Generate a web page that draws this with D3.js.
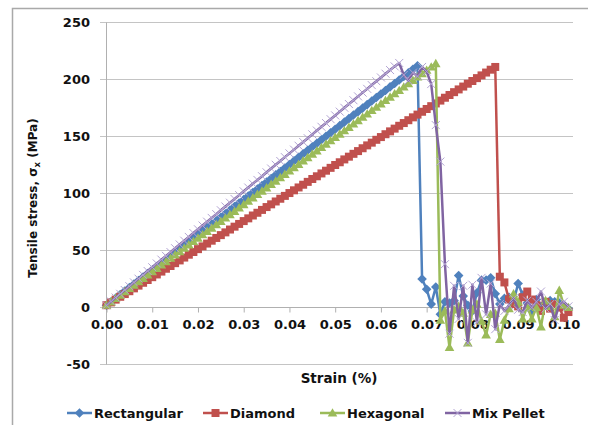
<!DOCTYPE html>
<html>
<head>
<meta charset="utf-8">
<script src="https://cdn.jsdelivr.net/npm/d3@7"></script>
<style>
  html, body { margin: 0; padding: 0; background: #fff; }
  svg { display: block; }
  text { font-family: "DejaVu Sans", sans-serif; font-weight: bold; fill: #111; }
</style>
</head>
<body>
<svg id="chart" width="598" height="425"></svg>
<script>
// Strain samples (%) shared by every series
const strain = [
  0.000, 0.001, 0.002, 0.003, 0.004, 0.005, 0.006, 0.007, 0.008, 0.009,
  0.010, 0.011, 0.012, 0.013, 0.014, 0.015, 0.016, 0.017, 0.018, 0.019,
  0.020, 0.021, 0.022, 0.023, 0.024, 0.025, 0.026, 0.027, 0.028, 0.029,
  0.030, 0.031, 0.032, 0.033, 0.034, 0.035, 0.036, 0.037, 0.038, 0.039,
  0.040, 0.041, 0.042, 0.043, 0.044, 0.045, 0.046, 0.047, 0.048, 0.049,
  0.050, 0.051, 0.052, 0.053, 0.054, 0.055, 0.056, 0.057, 0.058, 0.059,
  0.060, 0.061, 0.062, 0.063, 0.064, 0.065, 0.066, 0.067, 0.068, 0.069,
  0.070, 0.071, 0.072, 0.073, 0.074, 0.075, 0.076, 0.077, 0.078, 0.079,
  0.080, 0.081, 0.082, 0.083, 0.084, 0.085, 0.086, 0.087, 0.088, 0.089,
  0.090, 0.091, 0.092, 0.093, 0.094, 0.095, 0.096, 0.097, 0.098, 0.099,
  0.100, 0.101
];

// Tensile stress (MPa) for each pellet shape
const rectangular = [
  2.0, 5.1, 8.2, 11.3, 14.4, 17.4, 20.5, 23.6, 26.7, 29.8,
  32.9, 36.0, 39.1, 42.1, 45.2, 48.3, 51.4, 54.5, 57.6, 60.7,
  63.8, 66.8, 69.9, 73.0, 76.1, 79.2, 82.3, 85.4, 88.5, 91.6,
  94.6, 97.7, 100.8, 103.9, 107.0, 110.1, 113.2, 116.3, 119.3, 122.4,
  125.5, 128.6, 131.7, 134.8, 137.9, 141.0, 144.0, 147.1, 150.2, 153.3,
  156.4, 159.5, 162.6, 165.7, 168.8, 171.8, 174.9, 178.0, 181.1, 184.2,
  187.3, 190.4, 193.5, 196.5, 199.6, 202.7, 205.8, 208.9, 212.0, 25,
  16, 3, 18, -6, 5, 4, 6, 28, 10, 2,
  -3, 13, 24, 24, 26, 12, 3, 8, 9, 5,
  21, 11, 4, -3, 7, 1, 4, 6, 5, 4,
  2, -1
];

const diamond = [
  2.0, 4.5, 6.9, 9.4, 11.8, 14.3, 16.8, 19.2, 21.7, 24.1,
  26.6, 29.0, 31.5, 34.0, 36.4, 38.9, 41.3, 43.8, 46.3, 48.7,
  51.2, 53.6, 56.1, 58.6, 61.0, 63.5, 65.9, 68.4, 70.9, 73.3,
  75.8, 78.2, 80.7, 83.1, 85.6, 88.1, 90.5, 93.0, 95.4, 97.9,
  100.4, 102.8, 105.3, 107.7, 110.2, 112.7, 115.1, 117.6, 120.0, 122.5,
  125.0, 127.4, 129.9, 132.3, 134.8, 137.2, 139.7, 142.2, 144.6, 147.1,
  149.5, 152.0, 154.5, 156.9, 159.4, 161.8, 164.3, 166.8, 169.2, 171.7,
  174.1, 176.6, 179.0, 181.5, 184.0, 186.4, 188.9, 191.3, 193.8, 196.3,
  198.7, 201.2, 203.6, 206.1, 208.6, 211.0, 27, 22, 7, 3,
  1, 9, 14, 7, 2, -3, 5, -1, 3, 0,
  -9, -4
];

const hexagonal = [
  2.0, 4.9, 7.9, 10.8, 13.8, 16.7, 19.7, 22.6, 25.6, 28.5,
  31.4, 34.4, 37.3, 40.3, 43.2, 46.2, 49.1, 52.0, 55.0, 57.9,
  60.9, 63.8, 66.8, 69.7, 72.7, 75.6, 78.5, 81.5, 84.4, 87.4,
  90.3, 93.3, 96.2, 99.2, 102.1, 105.0, 108.0, 110.9, 113.9, 116.8,
  119.8, 122.7, 125.6, 128.6, 131.5, 134.5, 137.4, 140.4, 143.3, 146.3,
  149.2, 152.1, 155.1, 158.0, 161.0, 163.9, 166.9, 169.8, 172.8, 175.7,
  178.6, 181.6, 184.5, 187.5, 190.4, 193.4, 196.3, 199.2, 202.2, 205.1,
  208.1, 211.0, 214.0, -11, -3, -35, -2, 1, -5, -31,
  -2, 3, -12, -24, -6, -5, -28, -11, -1, 12,
  5, -10, 1, -10, 0, -17, 6, 1, -8, 15,
  2, 0
];

const mixPellet = [
  2.0, 5.3, 8.7, 12.0, 15.3, 18.7, 22.0, 25.3, 28.6, 32.0,
  35.3, 38.6, 42.0, 45.3, 48.6, 52.0, 55.3, 58.6, 61.9, 65.3,
  68.6, 71.9, 75.3, 78.6, 81.9, 85.3, 88.6, 91.9, 95.2, 98.6,
  101.9, 105.2, 108.6, 111.9, 115.2, 118.6, 121.9, 125.2, 128.5, 131.9,
  135.2, 138.5, 141.9, 145.2, 148.5, 151.9, 155.2, 158.5, 161.8, 165.2,
  168.5, 171.8, 175.2, 178.5, 181.8, 185.2, 188.5, 191.8, 195.1, 198.5,
  201.8, 205.1, 208.3, 211.5, 214.5, 204, 199, 206, 203, 211,
  207, 196, 160, 128, 38, -23, 19, -10, 19, -31,
  20, -13, 26, -6, 21, -19, 3, -3, 2, 8,
  -2, -4, 6, 0, 5, 14, -1, 3, -11, 3,
  5, 1
];

const seriesNames = ['Rectangular', 'Diamond', 'Hexagonal', 'Mix Pellet'];
const yTicks = [-50, 0, 50, 100, 150, 200, 250];
const xTicks = [0.00, 0.01, 0.02, 0.03, 0.04, 0.05, 0.06, 0.07, 0.08, 0.09, 0.10];

// Look of each series (Excel 2007 palette)
const styles = [
  { color: '#4f81bd', marker: 'diamond' },
  { color: '#c0504d', marker: 'square' },
  { color: '#9bbb59', marker: 'triangle' },
  { color: '#8064a2', marker: 'cross', markerColor: '#b3a5d3' }
];

const markerPaths = {
  diamond: 'M0,-4.8L4.8,0L0,4.8L-4.8,0Z',
  square: 'M-4,-4H4V4H-4Z',
  triangle: 'M0,-4.8L4.8,3.6L-4.8,3.6Z',
  cross: 'M-4,-4L4,4M4,-4L-4,4'
};

const svg = d3.select('#chart');

// Outer chart frame (top and left edges only)
svg.append('path')
  .attr('d', 'M12.5,425V8.5H588')
  .attr('fill', 'none')
  .attr('stroke', '#a9a9a9')
  .attr('stroke-width', 1.5);

const x = d3.scaleLinear().domain([0, 0.102]).range([106.5, 573]);
const y = d3.scaleLinear().domain([-50, 250]).range([364.5, 22.5]);

// Horizontal gridlines + y axis tick marks
svg.append('g')
  .selectAll('line')
  .data(yTicks)
  .join('line')
  .attr('x1', 100)
  .attr('x2', 573)
  .attr('y1', d => y(d))
  .attr('y2', d => y(d))
  .attr('stroke', '#c4c4c4')
  .attr('stroke-width', 1);

// Y axis line
svg.append('line')
  .attr('x1', x(0)).attr('x2', x(0))
  .attr('y1', y(250)).attr('y2', y(-50))
  .attr('stroke', '#b0b0b0');

// X axis at stress = 0
const xAxis = d3.axisBottom(x)
  .tickValues(xTicks)
  .tickSize(5)
  .tickFormat(d3.format('.2f'));

const gx = svg.append('g')
  .attr('transform', `translate(0,${y(0)})`)
  .call(xAxis);
gx.select('.domain').attr('stroke', '#b0b0b0').attr('d', `M${x(0)},0H573`);
gx.selectAll('.tick line').attr('stroke', '#b0b0b0');
gx.selectAll('.tick text')
  .attr('y', 12)
  .attr('font-size', 13)
  .attr('font-family', '"DejaVu Sans", sans-serif')
  .attr('fill', '#111');

// Y tick labels
svg.append('g')
  .selectAll('text')
  .data(yTicks)
  .join('text')
  .attr('x', 90)
  .attr('y', d => y(d))
  .attr('dy', '0.36em')
  .attr('text-anchor', 'end')
  .attr('font-size', 13)
  .text(d => d);

// Axis titles
svg.append('text')
  .attr('x', 339)
  .attr('y', 383)
  .attr('text-anchor', 'middle')
  .attr('font-size', 13.5)
  .text('Strain (%)');

const yTitle = svg.append('text')
  .attr('transform', 'translate(37,198) rotate(-90)')
  .attr('text-anchor', 'middle')
  .attr('font-size', 12);
yTitle.append('tspan').text('Tensile stress, σ');
yTitle.append('tspan').attr('font-size', 8.5).attr('dy', 3).text('x');
yTitle.append('tspan').attr('dy', -3).text(' (MPa)');

// Series: line then markers, drawn in legend order
const seriesValues = [rectangular, diamond, hexagonal, mixPellet];
const line = d3.line()
  .x(d => x(d[0]))
  .y(d => y(d[1]));

seriesValues.forEach((values, i) => {
  const st = styles[i];
  const pts = strain.map((s, j) => [s, values[j]]);
  const g = svg.append('g');

  g.append('path')
    .datum(pts)
    .attr('d', line)
    .attr('fill', 'none')
    .attr('stroke', st.color)
    .attr('stroke-width', 2.5)
    .attr('stroke-linejoin', 'round');

  g.selectAll('path.marker')
    .data(pts)
    .join('path')
    .attr('class', 'marker')
    .attr('transform', d => `translate(${x(d[0])},${y(d[1])})`)
    .attr('d', markerPaths[st.marker])
    .attr('fill', st.marker === 'cross' ? 'none' : st.color)
    .attr('stroke', st.marker === 'cross' ? st.markerColor : 'none')
    .attr('stroke-width', 1);
});

// Legend
const legendX = [67, 203, 320, 445];
const legend = svg.append('g');
seriesNames.forEach((name, i) => {
  const st = styles[i];
  const item = legend.append('g').attr('transform', `translate(${legendX[i]},413)`);
  item.append('line')
    .attr('x1', 0).attr('x2', 25)
    .attr('stroke', st.color)
    .attr('stroke-width', 2.5);
  item.append('path')
    .attr('transform', 'translate(12.5,0)')
    .attr('d', markerPaths[st.marker])
    .attr('fill', st.marker === 'cross' ? 'none' : st.color)
    .attr('stroke', st.marker === 'cross' ? st.markerColor : 'none');
  item.append('text')
    .attr('x', 27)
    .attr('dy', '0.36em')
    .attr('font-size', 13)
    .text(name);
});
</script>
</body>
</html>
